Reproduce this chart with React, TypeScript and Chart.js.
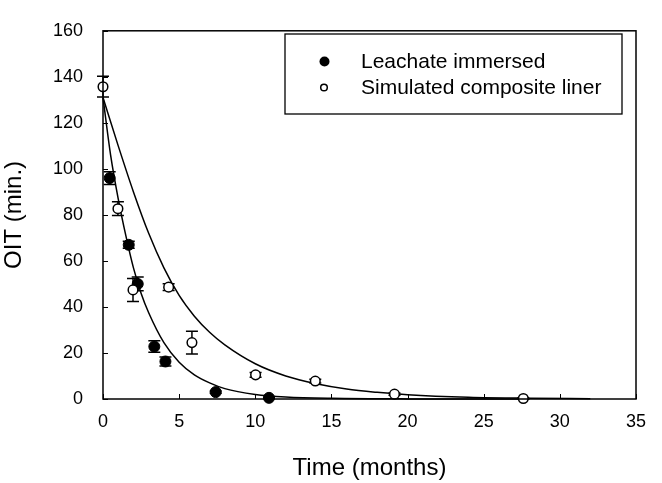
import React, { useEffect, useRef } from "react";
import { Chart, registerables } from "chart.js";

Chart.register(...registerables);

// Measured data: Leachate immersed (filled)
const leachX = [0.44, 1.69, 2.28, 3.37, 4.1, 7.4, 10.9];
const leachY = [96, 67, 50, 22.8, 16.3, 3, 0.5];
const leachErr = [2.8, 1.5, 3, 2.5, 2, 0.5, 0.3];

// Simulated composite liner (open)
const simX = [0, 0.98, 1.97, 4.31, 5.84, 10.02, 13.94, 19.14, 27.6];
const simY = [135.7, 82.7, 47.4, 48.6, 24.5, 10.5, 7.8, 2.1, 0.2];
const simErr = [4.5, 3, 5, 1.5, 4.9, 1, 0.8, 0.5, 0.3];

// Fitted curves
const leachFitX = [0, 0.5, 1, 1.5, 2, 2.5, 3, 4, 5, 6, 7, 8, 10, 12, 15, 20, 28];
const leachFitY = [131, 106, 87, 71, 57, 46, 37.5, 24.5, 16, 10.5, 7, 4.5, 2, 0.9, 0.3, 0.05, 0];
const simFitX = [0, 1, 2, 3, 4, 5, 6, 7, 8, 10, 12, 14, 16, 18, 20, 24, 28, 32];
const simFitY = [131, 110, 90, 72, 57, 45, 36, 29, 23.5, 15.3, 10, 6.6, 4.3, 2.9, 1.9, 0.8, 0.35, 0.15];

const xTicks = [0, 5, 10, 15, 20, 25, 30, 35];
const yTicks = [0, 20, 40, 60, 80, 100, 120, 140, 160];

const legendLabels = ["Leachate immersed", "Simulated composite liner"];

const FONT = "'Liberation Sans', Arial, sans-serif";

function pts(xs: number[], ys: number[]) {
  return xs.map((x, i) => ({ x, y: ys[i] }));
}

const errorBarPlugin = {
  id: "errorBars",
  beforeDatasetsDraw(chart: any) {
    const { ctx } = chart;
    const xs = chart.scales.x;
    const ys = chart.scales.y;
    const draw = (xv: number[], yv: number[], ev: number[]) => {
      ctx.save();
      ctx.strokeStyle = "#000";
      ctx.lineWidth = 1.5;
      xv.forEach((x, i) => {
        const px = xs.getPixelForValue(x);
        const top = ys.getPixelForValue(yv[i] + ev[i]);
        const bot = ys.getPixelForValue(Math.max(0, yv[i] - ev[i]));
        ctx.beginPath();
        ctx.moveTo(px, top);
        ctx.lineTo(px, bot);
        ctx.moveTo(px - 6, top);
        ctx.lineTo(px + 6, top);
        ctx.moveTo(px - 6, bot);
        ctx.lineTo(px + 6, bot);
        ctx.stroke();
      });
      ctx.restore();
    };
    draw(leachX, leachY, leachErr);
    draw(simX, simY, simErr);
  },
};

const frameLegendPlugin = {
  id: "frameLegend",
  afterDraw(chart: any) {
    const { ctx, chartArea: a } = chart;
    const xs = chart.scales.x;
    const ys = chart.scales.y;
    ctx.save();
    ctx.strokeStyle = "#000";
    ctx.lineWidth = 1.5;
    ctx.strokeRect(a.left, a.top, a.right - a.left, a.bottom - a.top);
    // inward ticks
    ctx.lineWidth = 1;
    ctx.beginPath();
    xTicks.forEach((t) => {
      const px = Math.round(xs.getPixelForValue(t)) + 0.5;
      ctx.moveTo(px, a.bottom);
      ctx.lineTo(px, a.bottom - 5);
    });
    yTicks.forEach((t) => {
      const py = Math.round(ys.getPixelForValue(t)) + 0.5;
      ctx.moveTo(a.left, py);
      ctx.lineTo(a.left + 5, py);
    });
    ctx.stroke();
    // legend box
    const bx = 285, by = 34, bw = 337, bh = 80;
    ctx.lineWidth = 1.3;
    ctx.strokeRect(bx, by, bw, bh);
    ctx.fillStyle = "#000";
    ctx.beginPath();
    ctx.arc(324.5, 61.5, 5, 0, Math.PI * 2);
    ctx.fill();
    ctx.beginPath();
    ctx.lineWidth = 1.5;
    ctx.arc(324, 87.5, 3.3, 0, Math.PI * 2);
    ctx.fillStyle = "#fff";
    ctx.fill();
    ctx.stroke();
    ctx.fillStyle = "#000";
    ctx.font = `21px ${FONT}`;
    ctx.textBaseline = "middle";
    ctx.textAlign = "left";
    ctx.fillText(legendLabels[0], 361, 62);
    ctx.fillText(legendLabels[1], 361, 88.5);
    ctx.restore();
  },
};

export default function App() {
  const ref = useRef<HTMLCanvasElement | null>(null);
  useEffect(() => {
    document.body.style.margin = "0";
    const canvas = ref.current!;
    const chart = new Chart(canvas, {
      type: "scatter",
      data: {
        datasets: [
          {
            label: "leachFit",
            data: pts(leachFitX, leachFitY),
            showLine: true,
            borderColor: "#000",
            borderWidth: 1.5,
            pointRadius: 0,
            cubicInterpolationMode: "monotone",
            order: 3,
          },
          {
            label: "simFit",
            data: pts(simFitX, simFitY),
            showLine: true,
            borderColor: "#000",
            borderWidth: 1.5,
            pointRadius: 0,
            cubicInterpolationMode: "monotone",
            order: 3,
          },
          {
            label: legendLabels[0],
            data: pts(leachX, leachY),
            showLine: false,
            pointRadius: 5.5,
            pointBackgroundColor: "#000",
            pointBorderColor: "#000",
            pointBorderWidth: 1,
            order: 1,
          },
          {
            label: legendLabels[1],
            data: pts(simX, simY),
            showLine: false,
            pointRadius: 4.8,
            pointBackgroundColor: "#fff",
            pointBorderColor: "#000",
            pointBorderWidth: 1.5,
            order: 0,
          },
        ],
      },
      options: {
        animation: false,
        responsive: false,
        clip: false as any,
        layout: { padding: { top: 19, right: 26, left: 0, bottom: 0 } },
        plugins: {
          legend: { display: false },
          tooltip: { enabled: false },
        },
        scales: {
          x: {
            type: "linear",
            min: 0,
            max: 35,
            afterBuildTicks: (s: any) => {
              s.ticks = xTicks.map((v) => ({ value: v }));
            },
            afterFit: (s: any) => {
              s.height = 84;
            },
            grid: { display: false, drawTicks: false },
            border: { display: false },
            ticks: {
              color: "#000",
              font: { family: FONT, size: 18 },
              padding: 12,
            },
            title: {
              display: true,
              text: "Time (months)",
              color: "#000",
              font: { family: FONT, size: 24 },
              padding: { top: 12, bottom: 0 },
            },
          },
          y: {
            type: "linear",
            min: 0,
            max: 160,
            afterBuildTicks: (s: any) => {
              s.ticks = yTicks.map((v) => ({ value: v }));
            },
            afterFit: (s: any) => {
              s.width = 103;
            },
            grid: { display: false, drawTicks: false },
            border: { display: false },
            ticks: {
              color: "#000",
              font: { family: FONT, size: 18 },
              padding: 20,
            },
            title: {
              display: true,
              text: "OIT (min.)",
              color: "#000",
              font: { family: FONT, size: 24 },
              padding: { top: 0, bottom: 4 },
            },
          },
        },
      },
      plugins: [errorBarPlugin, frameLegendPlugin],
    });
    return () => chart.destroy();
  }, []);
  return (
    <div style={{ position: "absolute", left: 0, top: 0, width: 662, height: 483 }}>
      <canvas ref={ref} width={662} height={483} style={{ width: 662, height: 483 }} />
    </div>
  );
}
